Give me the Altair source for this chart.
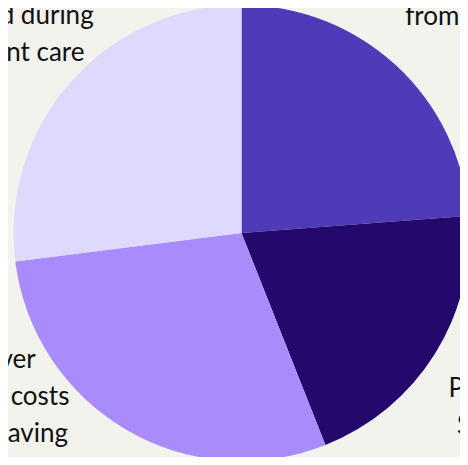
import altair as alt
import pandas as pd

# Slices, clockwise from 12 o'clock
categories = ["Income from interest", "Premiums paid", "Cover and saving", "Saved during care"]
shares = [23.8, 20.2, 29.0, 27.0]
labels = [
    "Income earned\nfrom interest",
    "Premiums\n$12,000",
    "Cover\nLower costs\nfrom saving",
    "Saved during\nurgent care",
]
colors = ["#4f3bb8", "#24086b", "#a98bfb", "#e0d9fe"]

df = pd.DataFrame({
    "category": categories,
    "share": shares,
    "label": labels,
    "idx": list(range(len(categories))),
})

base = alt.Chart(df)

pie = base.mark_arc(radius=228, strokeWidth=0).encode(
    theta=alt.Theta("share:Q", stack=True),
    color=alt.Color("category:N", scale=alt.Scale(domain=categories, range=colors), legend=None),
    order=alt.Order("idx:Q"),
)

lab = base.transform_joinaggregate(total="sum(share)").transform_window(
    cum="sum(share)", sort=[alt.SortField("idx")], frame=[None, 0]
).transform_calculate(mid="(datum.cum - datum.share / 2) / datum.total * 2 * PI")

offsets = [(33.5, -25), (9, 5), (-87, -123), (3.5, -10.6)]

layers = [pie]
for cat, (dx, dy) in zip(categories, offsets):
    layers.append(
        lab.transform_filter(alt.datum.category == cat)
        .mark_text(
            radius=300, dx=dx, dy=dy, align="center", baseline="alphabetic",
            fontSize=26, font="Lato", lineHeight=37, lineBreak="\n", color="#111111",
        )
        .encode(
            theta=alt.Theta("mid:Q", scale=None, stack=False),
            text="label:N",
        )
    )

chart = alt.layer(*layers).properties(
    width=437, height=448, autosize=alt.AutoSizeParams(type="none"),
    padding={"left": 15, "top": 1, "right": 0, "bottom": 0},
    background="#f3f3ee",
).configure_view(stroke=None)

chart.save("out.html", embed_options={"renderer": "svg", "actions": False})
